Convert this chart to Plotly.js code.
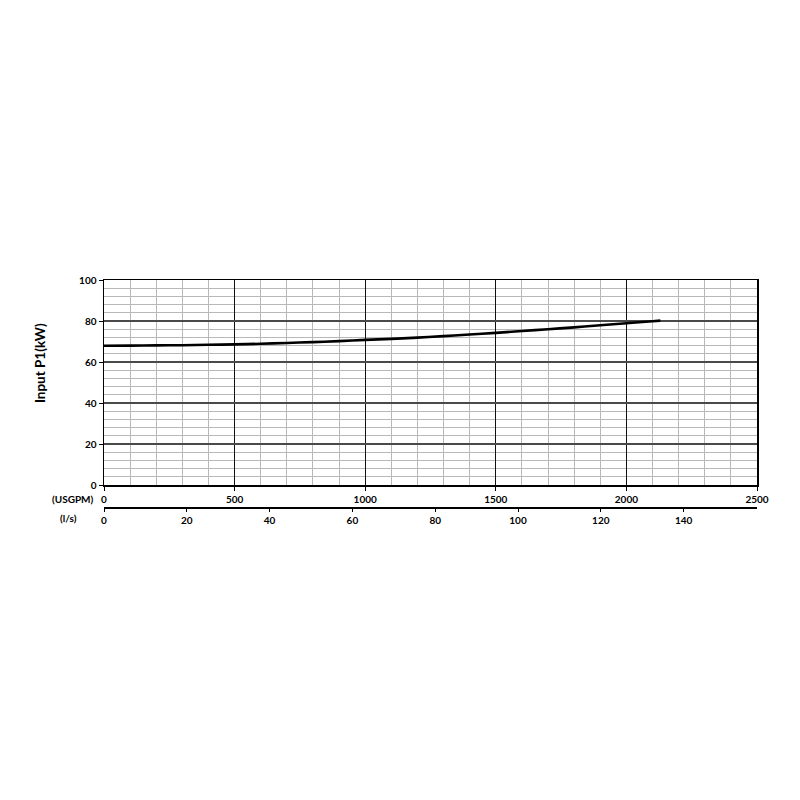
<!DOCTYPE html>
<html>
<head>
<meta charset="utf-8">
<script src="https://cdn.plot.ly/plotly-3.0.1.min.js"></script>
<style>
body { margin: 0; background: #fff; }
#myDiv { width: 800px; height: 800px; }
</style>
</head>
<body>
<div id="myDiv"></div>
<script>
// flow in USGPM and input power
var flowUsgpm = [0, 100, 200, 300, 400, 500, 600, 700, 800, 900, 1000, 1100, 1200, 1300, 1400, 1500, 1600, 1700, 1800, 1900, 2000, 2100, 2130];
var powerKw = [67.9, 68.0, 68.1, 68.2, 68.4, 68.6, 68.9, 69.3, 69.7, 70.2, 70.8, 71.3, 71.9, 72.6, 73.4, 74.2, 75.1, 76.0, 76.9, 77.9, 78.9, 79.9, 80.2];
var gpmTicks = [0, 500, 1000, 1500, 2000, 2500];
var lsTicks = [0, 20, 40, 60, 80, 100, 120, 140];
var GPM_TO_LS = 0.0630902;

var flowLs = [];
for (var i = 0; i < flowUsgpm.length; i++) {
  flowLs[i] = flowUsgpm[i] * GPM_TO_LS;
}

var tickFont = {family: 'Lato, "Open Sans", sans-serif', size: 10, color: '#000', weight: 'bold'};

var curve = {
  x: flowUsgpm,
  y: powerKw,
  type: 'scatter',
  mode: 'lines',
  line: {color: '#000', width: 2.6, shape: 'spline'},
  hoverinfo: 'x+y'
};
// same curve on the l/s scale, invisible, so the second axis is drawn
var curveLs = {
  x: flowLs,
  y: powerKw,
  xaxis: 'x2',
  type: 'scatter',
  mode: 'lines',
  line: {color: 'rgba(0,0,0,0)', width: 0},
  hoverinfo: 'skip'
};

var layout = {
  width: 800,
  height: 800,
  showlegend: false,
  paper_bgcolor: '#fff',
  plot_bgcolor: '#fff',
  margin: {l: 104, r: 43, t: 280, b: 293},
  xaxis: {
    range: [0, 2500],
    tickvals: gpmTicks,
    ticks: 'outside',
    ticklen: 4,
    tickcolor: '#000',
    tickfont: tickFont,
    showline: true,
    linecolor: '#000',
    linewidth: 1.5,
    mirror: true,
    showgrid: true,
    gridcolor: '#111',
    gridwidth: 1,
    minor: {dtick: 100, showgrid: true, gridcolor: '#b8b8b8', gridwidth: 1, ticks: ''},
    zeroline: false,
    fixedrange: true
  },
  xaxis2: {
    overlaying: 'x',
    anchor: 'free',
    position: 0,
    side: 'bottom',
    range: [0, 2500 * GPM_TO_LS],
    tickvals: lsTicks,
    ticks: 'outside',
    ticklen: 3,
    tickcolor: '#000',
    tickfont: tickFont,
    showline: true,
    linecolor: '#000',
    linewidth: 1.5,
    showgrid: false,
    zeroline: false,
    fixedrange: true
  },
  yaxis: {
    domain: [0.0969, 1],
    range: [0, 100],
    dtick: 20,
    ticks: 'outside',
    ticklen: 4,
    tickcolor: '#000',
    tickfont: tickFont,
    showline: true,
    linecolor: '#000',
    linewidth: 1.5,
    mirror: true,
    showgrid: true,
    gridcolor: '#4a4a4a',
    gridwidth: 1.5,
    minor: {dtick: 4, showgrid: true, gridcolor: '#b8b8b8', gridwidth: 1, ticks: ''},
    zeroline: false,
    fixedrange: true
  },
  annotations: [
    {
      text: 'Input P1(kW)', xref: 'paper', yref: 'paper',
      x: -0.098, y: 0.634, xanchor: 'center', yanchor: 'middle', textangle: -90,
      showarrow: false,
      font: {family: 'Lato, "Open Sans", sans-serif', size: 13.5, color: '#000', weight: 'bold'}
    },
    {
      text: '(USGPM)', xref: 'paper', yref: 'paper',
      x: -0.012, y: 0.0969, xanchor: 'right', yanchor: 'top', yshift: -6,
      showarrow: false, font: tickFont
    },
    {
      text: '(l/s)', xref: 'paper', yref: 'paper',
      x: -0.055, y: 0, xanchor: 'center', yanchor: 'top', yshift: -3,
      showarrow: false, font: tickFont
    }
  ]
};

Plotly.newPlot('myDiv', [curve, curveLs], layout, {displayModeBar: false, staticPlot: true});
</script>
</body>
</html>
